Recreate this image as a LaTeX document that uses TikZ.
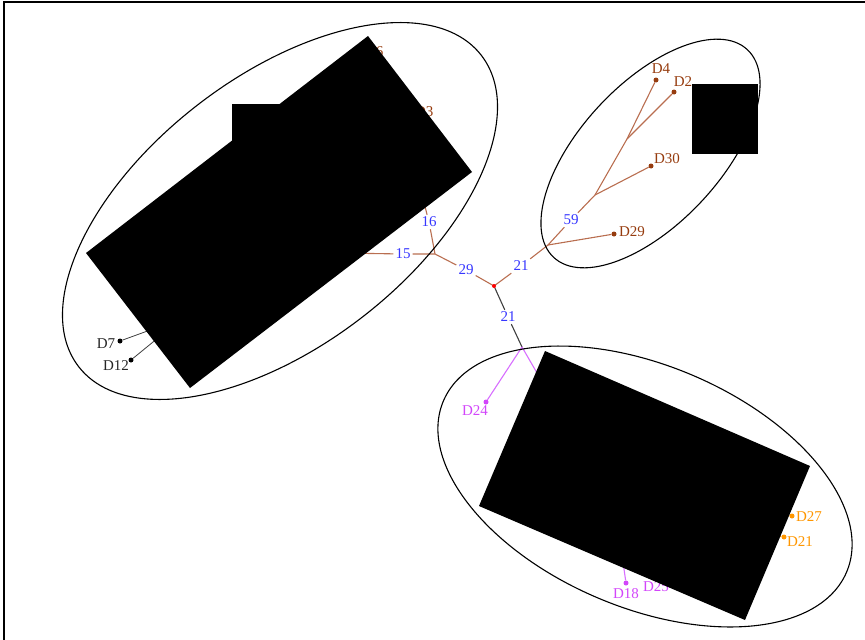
\documentclass[tikz,border=0pt]{standalone}
\usepackage{fontspec}
\setmainfont{Liberation Serif}
\definecolor{branchbrown}{RGB}{185,110,80}
\definecolor{leafbrown}{RGB}{150,60,15}
\definecolor{lenblue}{RGB}{55,55,255}
\definecolor{violetline}{RGB}{215,110,255}
\definecolor{violetleaf}{RGB}{210,70,250}
\definecolor{orangeleaf}{RGB}{255,150,0}

\begin{document}
\begin{tikzpicture}[x=1pt,y=-1pt,
    font=\fontsize{15}{15}\selectfont,
    branch/.style={draw=branchbrown, line width=1.1pt},
    darkbranch/.style={draw=black!75, line width=1.1pt},
    violetbranch/.style={draw=violetline, line width=1.1pt},
    lenlabel/.style={text=lenblue, inner sep=2pt},
    tip/.style={circle, fill=#1, inner sep=0pt, minimum size=5pt},
    clade/.style={draw=black, line width=1.1pt}]
    \useasboundingbox (0,0) rectangle (865,640);
    \draw[line width=2pt] (4,660) -- (4,2) -- (880,2);

    % tree
    \coordinate (root) at (494,286);
    \node[lenlabel] (l21a) at (521,266) {21};
    \coordinate (j1) at (548,245);
    \node[lenlabel] (l59) at (571,220) {59};
    \coordinate (j2) at (595,195);
    \coordinate (j3) at (627,139);
    \node[tip=leafbrown] (d4) at (656,80) {};
    \node[tip=leafbrown] (d2) at (674,92) {};
    \node[tip=leafbrown] (d30) at (651,166) {};
    \node[tip=leafbrown] (d29) at (614,234) {};
    \node[text=leafbrown] at (661,69) {D4};
    \node[text=leafbrown] at (683,82) {D2};
    \node[text=leafbrown] at (667,159) {D30};
    \node[text=leafbrown] at (632,232) {D29};
    \draw[branch] (root) -- (l21a) -- (j1);
    \draw[branch] (j1) -- (d29);
    \draw[branch] (j1) -- (l59) -- (j2);
    \draw[branch] (j2) -- (d30);
    \draw[branch] (j2) -- (j3) -- (d4);
    \draw[branch] (j3) -- (d2);

    \node[lenlabel] (l29) at (466,270) {29};
    \coordinate (jl) at (435,254);
    \node[lenlabel] (l15) at (403,254) {15};
    \coordinate (hid15) at (340,253);
    \node[lenlabel] (l16) at (429,222) {16};
    \coordinate (hid16) at (422,195);
    \draw[branch] (root) -- (l29) -- (jl);
    \draw[branch] (jl) -- (l15) -- (hid15);
    \draw[branch] (jl) -- (l16) -- (hid16);
    \node[text=leafbrown, anchor=east] at (387,52) {D6};
    \node[text=leafbrown, anchor=east] at (437,112) {D3};

    \node[tip=black] (d7) at (120,341) {};
    \node[tip=black] (d12) at (131,360) {};
    \coordinate (hid7) at (175,321);
    \coordinate (hid12) at (175,324);
    \draw[darkbranch, line width=0.8pt] (d7) -- (hid7);
    \draw[darkbranch, line width=0.8pt] (d12) -- (hid12);
    \node[text=black!85] at (106,344) {D7};
    \node[text=black!85] at (116,366) {D12};

    \node[lenlabel] (l21b) at (508,317) {21};
    \coordinate (jb) at (522,347);
    \node[tip=violetleaf] (d24) at (486,402) {};
    \coordinate (hidb) at (548,392);
    \draw[darkbranch] (root) -- (l21b) -- (jb);
    \draw[violetbranch] (jb) -- (d24);
    \draw[violetbranch] (jb) -- (hidb);
    \node[text=violetleaf] at (475,411) {D24};

    \node[tip=violetleaf] (d18) at (626,583) {};
    \coordinate (hid18) at (622,555);
    \draw[violetbranch] (d18) -- (hid18);
    \node[text=violetleaf] at (626,594) {D18};
    \node[text=violetleaf] at (656,587) {D25};

    \node[tip=orangeleaf] (d27) at (792,516) {};
    \node[tip=orangeleaf] (d21) at (784,537) {};
    \coordinate (hid27) at (765,512);
    \coordinate (hid21) at (760,533);
    \draw[draw=orangeleaf, line width=1.1pt] (d27) -- (hid27);
    \draw[draw=orangeleaf, line width=1.1pt] (d21) -- (hid21);
    \node[text=orangeleaf] at (809,517) {D27};
    \node[text=orangeleaf] at (800,542) {D21};

    \fill[red] (root) circle (2pt);

    % clades
    \draw[clade, rotate around={37.7:(280,211)}] (280,211) ellipse (254.5 and 134.3);
    \draw[clade, rotate around={47:(650.5,153.5)}] (650.5,153.5) ellipse (142 and 70);
    \draw[clade, rotate around={-23:(645,486.5)}] (645,486.5) ellipse (219 and 121);

    % black boxes
    \fill (86,253) -- (232,140.6) -- (232,104) -- (279.6,104) -- (368,36) -- (472,172) -- (190,388) -- cycle;
    \fill (692,84) rectangle (758,154);
    \fill (545,351) -- (810,466) -- (745,620) -- (479,506) -- cycle;
\end{tikzpicture}
\end{document}
